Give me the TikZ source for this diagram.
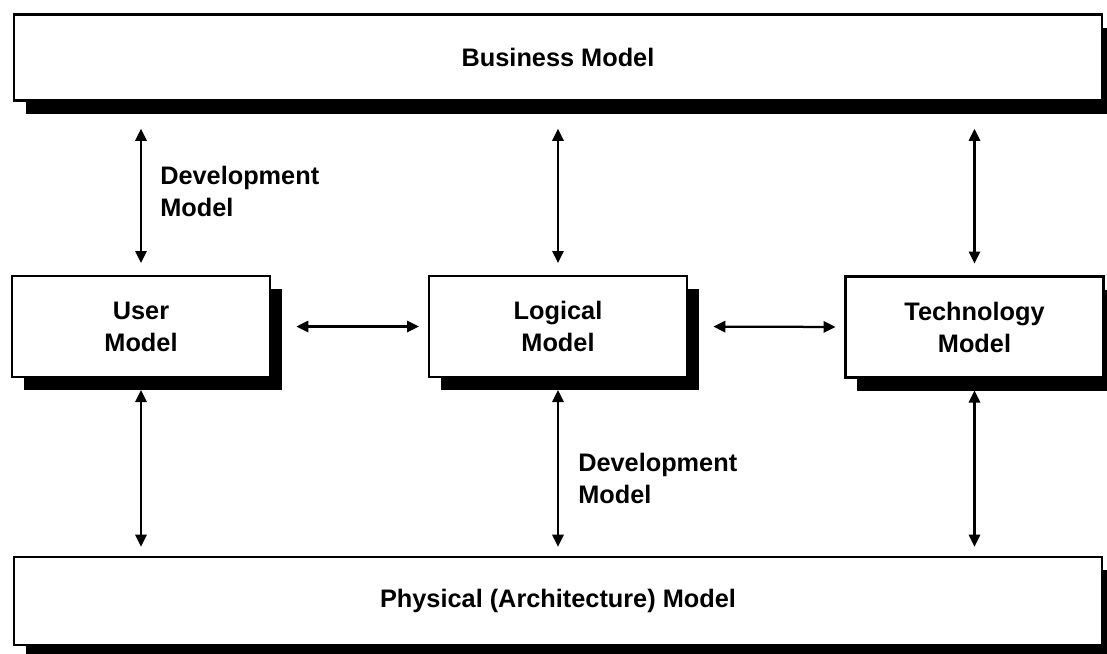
\documentclass[tikz,border=0pt]{standalone}
\usepackage{fontspec}
\setmainfont{Liberation Sans}
\usetikzlibrary{shadows,arrows.meta}

\tikzset{
  model/.style={draw, line width=1.6pt, fill=white, align=center,
    font=\bfseries\fontsize{18}{22.7}\selectfont,
    drop shadow={shadow xshift=0.3cm, shadow yshift=-0.33cm, fill=black, opacity=1}},
  widebox/.style={model, minimum width=27.2cm, minimum height=2.15cm},
  smallbox/.style={model, minimum width=6.45cm, minimum height=2.52cm},
  link/.style={{Triangle[length=8.5pt,width=8pt]}-{Triangle[length=8.5pt,width=8pt]}, line width=1.6pt},
  note/.style={align=left, anchor=west, inner sep=0pt, font=\bfseries\fontsize{18}{22.7}\selectfont}
}

\begin{document}
\begin{tikzpicture}[x=0.025cm,y=-0.025cm]
\useasboundingbox (0,0) rectangle (1107,653);

% the five models
\node[widebox] (biz) at (558,57.5) {Business Model};
\node[smallbox] (user) at (141,326.5) {User\\Model};
\node[smallbox] (logic) at (558,326.5) {Logical\\Model};
\node[smallbox] (tech) at (974.5,327) {Technology\\Model};
\node[widebox, minimum height=2.2cm] (phys) at (558,601) {Physical (Architecture) Model};

% up to the business model
\draw[link, shorten <=0.68cm, shorten >=0.3cm] (biz.south -| user) -- (user.north);
\draw[link, shorten <=0.68cm, shorten >=0.3cm] (biz.south -| logic) -- (logic.north);
\draw[link, shorten <=0.68cm, shorten >=0.3cm] (biz.south -| tech) -- (tech.north);

% down to the physical model
\draw[link, shorten <=0.3cm, shorten >=0.23cm] (user.south) -- (phys.north -| user);
\draw[link, shorten <=0.3cm, shorten >=0.23cm] (logic.south) -- (phys.north -| logic);
\draw[link, shorten <=0.3cm, shorten >=0.23cm] (tech.south) -- (phys.north -| tech);

% across
\draw[link, shorten <=0.63cm, shorten >=0.22cm] (user.east) -- (logic.west);
\draw[link, shorten <=0.63cm, shorten >=0.22cm] (logic.east) -- (tech.west);

\node[note] (dev1) at (160,191) {Development\\Model};
\node[note] (dev2) at (578,478) {Development\\Model};
\end{tikzpicture}
\end{document}
